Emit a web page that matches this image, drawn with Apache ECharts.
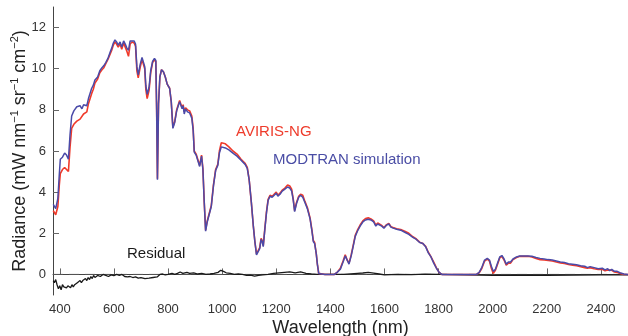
<!DOCTYPE html>
<html>
<head>
<meta charset="utf-8">
<script src="https://cdn.jsdelivr.net/npm/echarts@6/dist/echarts.min.js"></script>
<style>
html,body{margin:0;padding:0;background:#fff;}
#chart{width:628px;height:336px;}
</style>
</head>
<body>
<div id="chart"></div>
<script>
// Wavelength (nm) samples for the two radiance spectra
var wavelength = [376,385,393,398,402,410,418,425,432,438,444,452,463,475,482,488,494,500,506,512,518,524,530,540,548,556,563,570,578,586,592,598,604,610,616,623,629,636,642,648,654,660,667,675,680,685,690,697,704,709,714,718,723,730,736,743,750,755,758,761,765,770,776,783,790,797,806,812,818,825,832,838,843,848,852,856,860,865,872,880,888,893,897,904,911,917,924,929,934,939,945,952,960,968,976,984,990,997,1003,1012,1025,1040,1055,1070,1085,1093,1100,1108,1115,1121,1127,1133,1139,1144,1148,1152,1158,1164,1170,1177,1185,1192,1200,1206,1214,1222,1232,1242,1250,1257,1263,1268,1275,1283,1290,1298,1306,1315,1325,1332,1337,1342,1348,1352,1357,1380,1415,1425,1437,1447,1455,1462,1469,1477,1485,1492,1500,1510,1520,1530,1540,1550,1560,1568,1575,1582,1590,1598,1608,1616,1624,1632,1645,1660,1675,1690,1705,1718,1730,1742,1752,1762,1772,1782,1792,1802,1812,1940,1950,1960,1970,1980,1988,1995,2002,2010,2018,2026,2034,2042,2050,2058,2066,2075,2088,2100,2115,2130,2145,2160,2175,2190,2205,2220,2235,2250,2265,2280,2295,2310,2325,2340,2350,2360,2375,2390,2405,2415,2425,2432,2440,2450,2460,2470,2485,2500];
// MODTRAN simulation radiance
var modtran = [3.4,3.2,3.7,4.8,5.6,5.7,5.9,5.8,5.6,6.8,7.7,7.95,8.15,8.2,8.05,8.25,8.3,8.2,8.55,8.6,9.05,9.2,9.45,9.6,9.9,10.05,10.15,10.3,10.5,10.8,11.0,11.25,11.4,11.3,11.15,11.3,11.05,11.35,11.2,11.0,10.9,11.35,11.4,11.35,11.2,10.1,9.7,10.2,10.55,10.6,10.1,9.2,8.75,9.1,9.9,10.35,10.5,10.4,8.0,4.6,8.3,9.6,9.95,9.85,9.6,9.25,9.05,8.4,7.1,7.4,7.95,8.2,8.4,8.35,8.05,8.2,7.8,8.05,7.9,7.85,7.6,7.0,5.95,5.8,5.75,5.25,5.75,5.1,3.5,2.1,2.55,2.6,3.3,4.3,5.05,5.3,5.9,6.2,6.25,6.15,6.05,5.9,5.75,5.55,5.35,5.15,4.6,3.5,2.4,1.6,0.95,0.9,1.25,1.7,1.6,1.35,2.2,3.0,3.6,3.8,3.75,3.7,3.95,3.8,3.9,4.05,4.15,4.25,4.2,4.05,3.6,3.05,3.45,3.75,3.85,3.75,3.5,3.2,2.7,2.1,1.6,1.5,1.0,0.5,0.05,0.0,0.0,0.1,0.25,0.6,0.9,0.7,0.5,0.9,1.4,1.85,2.1,2.35,2.55,2.65,2.68,2.65,2.55,2.35,2.45,2.5,2.35,2.25,2.4,2.45,2.3,2.25,2.2,2.15,2.05,1.95,1.8,1.7,1.55,1.5,1.35,1.05,0.85,0.55,0.3,0.1,0.0,0.0,0.1,0.35,0.7,0.78,0.7,0.4,0.15,0.25,0.55,0.85,0.92,0.75,0.5,0.6,0.6,0.75,0.85,0.9,0.9,0.9,0.88,0.82,0.78,0.75,0.72,0.7,0.65,0.6,0.58,0.52,0.5,0.47,0.42,0.4,0.33,0.38,0.33,0.28,0.3,0.22,0.28,0.18,0.25,0.15,0.15,0.08,0.02,0.0];
// AVIRIS-NG measured radiance
var aviris = [3.1,2.9,3.3,4.3,4.9,5.1,5.2,5.1,5.0,6.2,7.1,7.3,7.45,7.55,7.5,7.8,7.85,7.9,8.3,8.35,8.8,9.0,9.3,9.5,9.8,9.95,10.05,10.25,10.45,10.7,10.9,11.15,11.3,11.2,11.05,11.2,10.95,11.25,11.05,10.85,10.6,11.2,11.3,11.25,11.1,9.9,9.55,10.05,10.45,10.5,10.0,9.0,8.55,8.95,9.8,10.3,10.45,10.35,8.0,4.65,8.3,9.6,9.95,9.85,9.6,9.25,9.05,8.4,7.15,7.45,8.0,8.25,8.45,8.4,8.1,8.25,7.9,8.1,8.0,7.95,7.7,7.1,6.0,5.85,5.85,5.3,5.8,5.15,3.5,2.15,2.6,2.65,3.35,4.35,5.1,5.35,6.0,6.4,6.45,6.35,6.2,6.0,5.85,5.6,5.4,5.2,4.6,3.5,2.4,1.6,1.0,0.95,1.3,1.75,1.65,1.4,2.25,3.05,3.65,3.85,3.8,3.75,4.0,3.85,3.95,4.1,4.2,4.35,4.3,4.15,3.65,3.1,3.5,3.8,3.9,3.85,3.55,3.25,2.75,2.15,1.65,1.55,1.0,0.5,0.05,0.0,0.0,0.1,0.3,0.65,0.95,0.7,0.55,0.95,1.45,1.9,2.15,2.4,2.6,2.72,2.75,2.7,2.6,2.4,2.5,2.52,2.38,2.28,2.42,2.48,2.32,2.28,2.22,2.18,2.1,2.0,1.83,1.72,1.57,1.5,1.37,1.08,0.85,0.6,0.32,0.1,0.0,0.0,0.08,0.3,0.65,0.75,0.65,0.3,0.05,0.2,0.5,0.8,0.88,0.7,0.45,0.55,0.55,0.72,0.82,0.88,0.88,0.88,0.85,0.78,0.72,0.7,0.68,0.65,0.6,0.56,0.53,0.48,0.45,0.42,0.38,0.33,0.3,0.33,0.28,0.24,0.25,0.18,0.22,0.15,0.2,0.12,0.1,0.05,0.0,0.0];
// Residual (AVIRIS-NG minus MODTRAN)
var residualWavelength = [376,380,385,390,395,400,405,410,415,420,425,430,435,440,445,450,455,460,465,470,475,480,485,490,495,500,505,510,515,520,525,530,540,550,560,570,580,590,600,610,620,630,640,650,660,670,680,690,700,715,730,745,760,770,780,790,800,815,825,835,845,855,870,880,895,910,925,940,955,970,985,995,1005,1015,1030,1045,1060,1075,1090,1105,1120,1135,1150,1170,1190,1210,1230,1250,1270,1290,1310,1330,1350,1400,1450,1500,1520,1540,1560,1580,1600,1650,1700,1750,1800,1900,2000,2100,2200,2300,2400,2500];
var residual = [-0.3,-0.4,-0.25,-0.5,-0.7,-0.55,-0.75,-0.5,-0.6,-0.55,-0.65,-0.55,-0.6,-0.65,-0.5,-0.6,-0.5,-0.55,-0.4,-0.45,-0.3,-0.4,-0.3,-0.35,-0.2,-0.3,-0.15,-0.25,-0.1,-0.2,-0.05,-0.15,-0.05,-0.1,0.0,-0.05,-0.1,-0.02,-0.06,0.0,-0.05,0.0,-0.1,-0.12,-0.1,-0.15,-0.12,-0.18,-0.15,-0.2,-0.18,-0.15,-0.12,0.0,0.02,-0.02,0.0,0.05,0.0,0.05,0.12,0.05,0.1,0.05,0.08,0.02,0.05,0.0,0.02,0.05,0.1,0.2,0.15,0.08,0.05,0.0,0.02,0.0,-0.05,-0.03,-0.08,-0.05,-0.02,0.0,0.05,0.08,0.1,0.12,0.08,0.12,0.05,0.02,0.0,0.0,0.0,0.05,0.07,0.1,0.06,0.02,-0.02,0.0,-0.01,0.01,0.0,-0.02,-0.05,-0.03,-0.04,-0.03,-0.02,-0.02];
var xTicks = [400,600,800,1000,1200,1400,1600,1800,2000,2200,2400];
var yTicks = [0,2,4,6,8,10,12];

function pairs(xs, ys){ return xs.map(function(x,i){ return [x, ys[i]]; }); }
function plain(v){ return String(v); }

var chart = echarts.init(document.getElementById('chart'), null, {renderer:'canvas'});
var font = 'Liberation Sans, Arial, sans-serif';
chart.setOption({
  animation: false,
  backgroundColor: '#fff',
  grid: {left: 53, right: 0, top: 7, bottom: 41, containLabel: false, outerBoundsMode: 'none'},
  xAxis: {
    type: 'value', min: 375, max: 2500,
    name: 'Wavelength (nm)', nameLocation: 'middle', nameGap: 24, nameMoveOverlap: false,
    nameTextStyle: {fontFamily: font, fontSize: 18, color: '#222'},
    axisLine: {show: true, lineStyle: {color: '#444', width: 1}},
    axisTick: {show: true, inside: true, length: 6, customValues: xTicks, lineStyle: {color: '#666'}},
    axisLabel: {customValues: xTicks, formatter: plain, fontFamily: font, fontSize: 13, color: '#333', margin: 8},
    splitLine: {show: false}
  },
  yAxis: {
    type: 'value', min: -1, max: 13,
    name: 'Radiance (mW nm{sup|\u22121} sr{sup|\u22121} cm{sup|\u22122})', nameLocation: 'middle', nameGap: 22, nameMoveOverlap: false,
    nameTextStyle: {fontFamily: font, fontSize: 18, color: '#222', lineHeight: 22,
      rich: {sup: {fontFamily: font, fontSize: 11, color: '#222', verticalAlign: 'top', lineHeight: 14}}},
    axisLine: {show: true, lineStyle: {color: '#444', width: 1}},
    axisTick: {show: true, inside: true, length: 6, customValues: yTicks, lineStyle: {color: '#666'}},
    axisLabel: {customValues: yTicks, formatter: plain, fontFamily: font, fontSize: 13, color: '#333', margin: 7},
    splitLine: {show: false}
  },
  series: [
    {name: 'zero', type: 'line', data: [[375,0],[2500,0]], symbol: 'none', silent: true,
     lineStyle: {color: '#555', width: 1, type: [10,6]}, z: 1},
    {name: 'Residual', type: 'line', data: pairs(residualWavelength, residual), symbol: 'none',
     lineStyle: {color: '#1a1a1a', width: 1.3}, z: 2},
    {name: 'AVIRIS-NG', type: 'line', data: pairs(wavelength, aviris), symbol: 'none',
     lineStyle: {color: '#f03a2a', width: 1.6}, z: 3},
    {name: 'MODTRAN simulation', type: 'line', data: pairs(wavelength, modtran), symbol: 'none',
     lineStyle: {color: '#4a4aa8', width: 1.5}, z: 4}
  ],
  graphic: [
    {type: 'text', left: 236, top: 124, style: {text: 'AVIRIS-NG', font: '15px ' + font, fill: '#ee3b2b'}},
    {type: 'text', left: 273, top: 152, style: {text: 'MODTRAN simulation', font: '15px ' + font, fill: '#4a4da5'}},
    {type: 'text', left: 127, top: 246, style: {text: 'Residual', font: '15px ' + font, fill: '#1a1a1a'}}
  ]
});
</script>
</body>
</html>
